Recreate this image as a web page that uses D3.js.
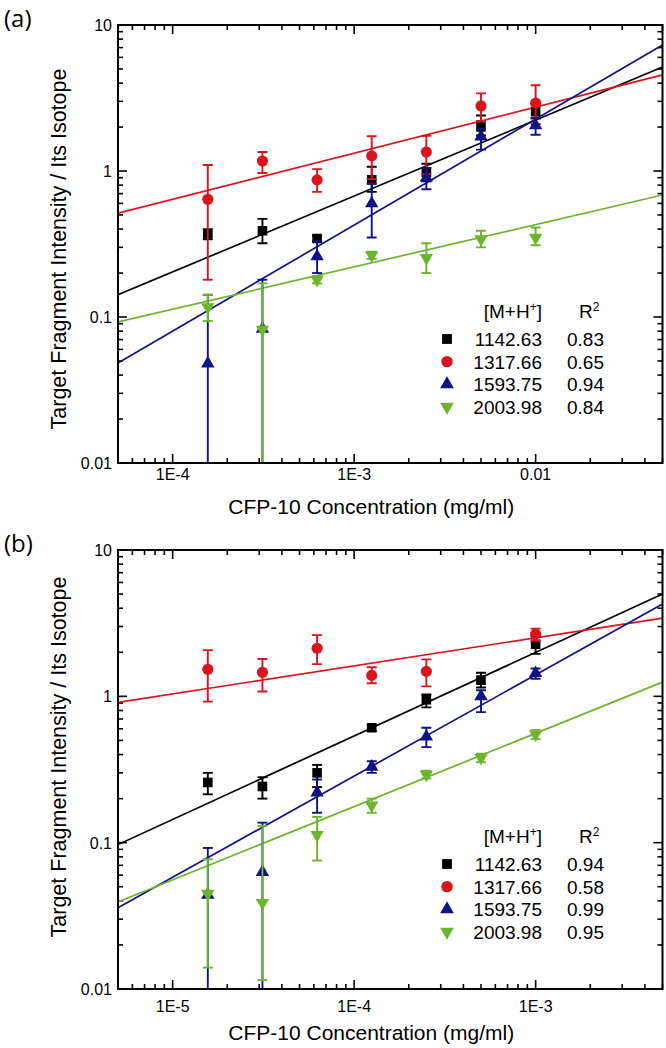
<!DOCTYPE html>
<html><head><meta charset="utf-8">
<script src="https://cdn.jsdelivr.net/npm/d3@7"></script>
<style>body{margin:0;background:#fff} svg{display:block}</style>
</head><body><svg id="c" width="666" height="1048"></svg>
<script>
// ---------- DATA ----------
const seriesNames = ["1142.63", "1317.66", "1593.75", "2003.98"];
const seriesColors = ["#000000", "#d8141c", "#121288", "#6db52c"];
const seriesSymbols = ["square", "circle", "triangle", "triangleDown"];

const yTickVals = [0.01, 0.1, 1, 10];
const yTickLabels = ["0.01", "0.1", "1", "10"];

// Panel (a)
const concA = [1.5625e-4, 3.125e-4, 6.25e-4, 1.25e-3, 2.5e-3, 5e-3, 1e-2];
const xDomainA = [5e-5, 0.05];
const xTickValsA = [1e-4, 1e-3, 1e-2];
const xTickLabelsA = ["1E-4", "1E-3", "0.01"];
const r2A = ["0.83", "0.65", "0.94", "0.84"];
const valsA = [
  [0.37, 0.39, 0.345, 0.87, 0.98, 2.0, 2.55],
  [0.64, 1.17, 0.87, 1.27, 1.35, 2.79, 2.92],
  [0.048, 0.083, 0.26, 0.60, 0.90, 1.72, 2.05],
  [0.117, 0.082, 0.18, 0.265, 0.254, 0.342, 0.35]
];
const loA = [
  [0.34, 0.32, 0.33, 0.72, 0.85, 1.75, 2.3],
  [0.18, 0.97, 0.72, 0.88, 0.95, 2.2, 2.1],
  [0.005, 0.005, 0.20, 0.35, 0.75, 1.40, 1.77],
  [0.094, 0.005, 0.17, 0.25, 0.20, 0.30, 0.31]
];
const hiA = [
  [0.40, 0.47, 0.36, 1.07, 1.12, 2.4, 2.85],
  [1.10, 1.35, 1.03, 1.73, 1.74, 3.4, 3.87],
  [0.142, 0.18, 0.33, 0.82, 1.05, 1.95, 2.3],
  [0.142, 0.17, 0.19, 0.28, 0.32, 0.39, 0.41]
];
const fitA = [[0.142, 5.15], [0.515, 4.55], [0.0484, 7.3], [0.0925, 0.685]];

// Panel (b)
const concB = [1.5625e-5, 3.125e-5, 6.25e-5, 1.25e-4, 2.5e-4, 5e-4, 1e-3];
const xDomainB = [5e-6, 5e-3];
const xTickValsB = [1e-5, 1e-4, 1e-3];
const xTickLabelsB = ["1E-5", "1E-4", "1E-3"];
const r2B = ["0.94", "0.58", "0.99", "0.95"];
const valsB = [
  [0.258, 0.242, 0.30, 0.61, 0.95, 1.29, 2.27],
  [1.53, 1.46, 2.13, 1.39, 1.48, null, 2.66],
  [0.044, 0.063, 0.22, 0.33, 0.53, 1.0, 1.44],
  [0.0448, 0.0388, 0.113, 0.18, 0.292, 0.38, 0.55]
];
const loB = [
  [0.214, 0.20, 0.24, 0.58, 0.84, 1.15, 1.95],
  [0.92, 1.08, 1.66, 1.23, 1.17, null, 2.4],
  [0.005, 0.005, 0.16, 0.30, 0.45, 0.78, 1.32],
  [0.014, 0.0115, 0.0755, 0.16, 0.275, 0.355, 0.51]
];
const hiB = [
  [0.30, 0.28, 0.34, 0.64, 1.03, 1.45, 2.55],
  [2.07, 1.80, 2.62, 1.58, 1.79, null, 2.9],
  [0.092, 0.137, 0.27, 0.36, 0.61, 1.1, 1.55],
  [0.077, 0.13, 0.15, 0.20, 0.31, 0.405, 0.59]
];
const fitB = [[0.097, 5.0], [0.91, 3.42], [0.0359, 4.27], [0.0394, 1.25]];

// ---------- DRAW ----------
const svg = d3.select("#c");
const FONT = "'Liberation Sans', Arial, sans-serif";

function symbolPath(kind, k) {
  k = k || 1;
  if (kind === "square") return d3.symbol(d3.symbolSquare, 92 * k)();
  if (kind === "circle") return d3.symbol(d3.symbolCircle, 98 * k)();
  return d3.symbol(d3.symbolTriangle, 78 * k)();
}

function panel(cfg) {
  const g = svg.append("g");
  const x = d3.scaleLog().domain(cfg.xDomain).range([cfg.left, cfg.right]);
  const y = d3.scaleLog().domain([0.01, 10]).range([cfg.bottom, cfg.top]);
  const clipId = "clip" + cfg.id;
  svg.append("defs").append("clipPath").attr("id", clipId)
    .append("rect").attr("x", cfg.left).attr("y", cfg.top)
    .attr("width", cfg.right - cfg.left).attr("height", cfg.bottom - cfg.top);

  // ticks
  const xt = x.ticks(), yt = y.ticks();
  const isMajor = v => Math.abs(Math.log10(v) - Math.round(Math.log10(v))) < 1e-6;
  const tg = g.append("g").attr("stroke", "#000").attr("stroke-width", 1.6);
  xt.forEach(v => {
    const L = isMajor(v) ? 9 : 5, px = x(v);
    tg.append("line").attr("x1", px).attr("x2", px).attr("y1", cfg.bottom).attr("y2", cfg.bottom - L);
    tg.append("line").attr("x1", px).attr("x2", px).attr("y1", cfg.top).attr("y2", cfg.top + L);
  });
  yt.forEach(v => {
    const L = isMajor(v) ? 9 : 5, py = y(v);
    tg.append("line").attr("y1", py).attr("y2", py).attr("x1", cfg.left).attr("x2", cfg.left + L);
    tg.append("line").attr("y1", py).attr("y2", py).attr("x1", cfg.right).attr("x2", cfg.right - L);
  });

  // tick labels
  cfg.xTickVals.forEach((v, i) => {
    g.append("text").attr("x", x(v)).attr("y", cfg.bottom + cfg.xLabOff)
      .attr("text-anchor", "middle").attr("font-family", FONT).attr("font-size", 16)
      .text(cfg.xTickLabels[i]);
  });
  yTickVals.forEach((v, i) => {
    g.append("text").attr("x", cfg.left - 6).attr("y", y(v) + 6)
      .attr("text-anchor", "end").attr("font-family", FONT).attr("font-size", 16)
      .text(yTickLabels[i]);
  });

  // axis titles
  g.append("text").attr("x", (cfg.left + cfg.right) / 2 - 19).attr("y", cfg.bottom + 51)
    .attr("text-anchor", "middle").attr("font-family", FONT).attr("font-size", 21)
    .text("CFP-10 Concentration (mg/ml)");
  g.append("text").attr("transform", `translate(66,${cfg.yTitleY}) rotate(-90)`)
    .attr("text-anchor", "middle").attr("font-family", FONT).attr("font-size", 21.5)
    .text("Target Fragment Intensity / Its Isotope");

  // panel label
  g.append("text").attr("x", 4).attr("y", cfg.top + 2).attr("font-family", "'Open Sans', sans-serif")
    .attr("font-size", 24).text(cfg.label);

  const plot = g.append("g").attr("clip-path", `url(#${clipId})`);
  // fits
  cfg.fit.forEach((f, s) => {
    plot.append("line").attr("x1", x(cfg.xDomain[0])).attr("y1", y(f[0]))
      .attr("x2", x(cfg.xDomain[1])).attr("y2", y(f[1]))
      .attr("stroke", seriesColors[s]).attr("stroke-width", 1.7);
  });
  // error bars + markers
  cfg.vals.forEach((vals, s) => {
    const col = seriesColors[s];
    vals.forEach((v, i) => {
      if (v == null) return;
      const px = x(cfg.conc[i]);
      const lo = cfg.lo[s][i], hi = cfg.hi[s][i];
      const eg = plot.append("g").attr("stroke", col).attr("stroke-width", 1.9);
      eg.append("line").attr("x1", px).attr("x2", px).attr("y1", y(lo)).attr("y2", y(hi));
      eg.append("line").attr("x1", px - 5).attr("x2", px + 5).attr("y1", y(lo)).attr("y2", y(lo));
      eg.append("line").attr("x1", px - 5).attr("x2", px + 5).attr("y1", y(hi)).attr("y2", y(hi));
    });
    vals.forEach((v, i) => {
      if (v == null) return;
      const kind = seriesSymbols[s];
      plot.append("path").attr("d", symbolPath(kind))
        .attr("transform", `translate(${x(cfg.conc[i])},${y(v)})` + (kind === "triangleDown" ? " rotate(180)" : ""))
        .attr("fill", col);
    });
  });

  // frame
  g.append("rect").attr("x", cfg.left).attr("y", cfg.top)
    .attr("width", cfg.right - cfg.left).attr("height", cfg.bottom - cfg.top)
    .attr("fill", "none").attr("stroke", "#000").attr("stroke-width", 2);

  // legend
  const lg = g.append("g").attr("font-family", FONT).attr("font-size", 19);
  const hy = cfg.top + 293;
  const hdr = lg.append("text").attr("x", 542).attr("y", hy).attr("text-anchor", "end");
  hdr.append("tspan").text("[M+H");
  hdr.append("tspan").attr("font-size", 12).attr("dy", -7).text("+");
  hdr.append("tspan").attr("dy", 7).text("]");
  const r2h = lg.append("text").attr("x", 579).attr("y", hy);
  r2h.append("tspan").text("R");
  r2h.append("tspan").attr("font-size", 12).attr("dy", -7).text("2");
  seriesNames.forEach((n, s) => {
    const cy = cfg.top + 314 + s * 22.6;
    const kind = seriesSymbols[s];
    lg.append("path").attr("d", symbolPath(kind, 1.05))
      .attr("transform", `translate(447,${cy})` + (kind === "triangleDown" ? " rotate(180)" : ""))
      .attr("fill", seriesColors[s]);
    lg.append("text").attr("x", 542).attr("y", cy + 7).attr("text-anchor", "end").text(n);
    lg.append("text").attr("x", 567).attr("y", cy + 7).text(cfg.r2[s]);
  });
}

panel({id: "a", label: "(a)", left: 118, right: 662.5, top: 25, bottom: 463,
  xDomain: xDomainA, xTickVals: xTickValsA, xTickLabels: xTickLabelsA, xLabOff: 17,
  yTitleY: 249, conc: concA, vals: valsA, lo: loA, hi: hiA, fit: fitA, r2: r2A});
panel({id: "b", label: "(b)", left: 118, right: 662.5, top: 550, bottom: 989,
  xDomain: xDomainB, xTickVals: xTickValsB, xTickLabels: xTickLabelsB, xLabOff: 23,
  yTitleY: 757, conc: concB, vals: valsB, lo: loB, hi: hiB, fit: fitB, r2: r2B});
</script></body></html>
